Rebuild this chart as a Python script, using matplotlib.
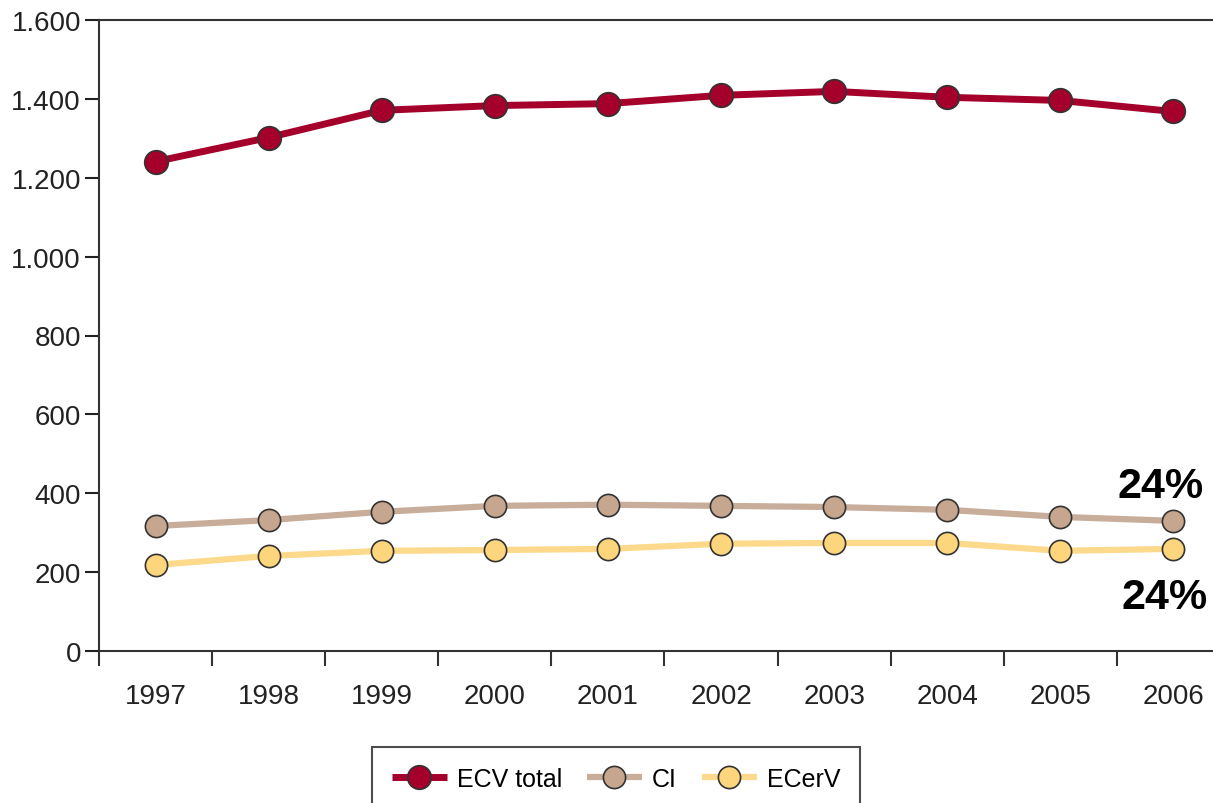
import numpy as np
import matplotlib.pyplot as plt
from matplotlib.ticker import FixedLocator, FuncFormatter

years = ["1997", "1998", "1999", "2000", "2001", "2002", "2003", "2004", "2005", "2006"]
ecv_total = [1241, 1302, 1371, 1383, 1388, 1409, 1419, 1404, 1396, 1368]
ci = [317, 332, 353, 368, 371, 368, 365, 358, 340, 330]
ecerv = [218, 241, 254, 256, 259, 272, 274, 274, 254, 259]
pct_labels = ["24%", "24%"]

plt.rcParams["font.family"] = ["Liberation Sans", "DejaVu Sans"]

W, H = 1213, 804
fig = plt.figure(figsize=(W / 100, H / 100), dpi=100)
ax = fig.add_axes([99 / W, 1 - 652 / H, (1230 - 99) / W, (652 - 21) / H])

x = np.arange(len(years))
series = [
    (ecv_total, "ECV total", "#a5002b", "#a5002b", 5.0, 17),
    (ci, "CI", "#c9ad9b", "#c6a68e", 4.5, 16),
    (ecerv, "ECerV", "#fdd98c", "#fcd57c", 4.5, 16),
]
for vals, label, lc, mc, lw, ms in series:
    ax.plot(x, vals, color=lc, lw=lw, marker="o", ms=ms, mfc=mc,
            mec="#333333", mew=1.2, label=label, solid_capstyle="butt")

ax.set_xlim(-0.5, len(years) - 0.5)
ax.set_ylim(0, 1600)
ax.set_yticks(np.arange(0, 1601, 200))
ax.yaxis.set_major_formatter(FuncFormatter(lambda v, p: f"{int(v):,}".replace(",", ".")))
ax.tick_params(axis="y", length=10, width=1.5, pad=3, labelsize=20, colors="#222222")

ax.xaxis.set_major_locator(FixedLocator(np.arange(-0.5, len(years), 1.0)))
ax.xaxis.set_major_formatter(FuncFormatter(lambda v, p: ""))
ax.xaxis.set_minor_locator(FixedLocator(x))
ax.set_xticklabels(years, minor=True)
ax.tick_params(axis="x", which="major", length=11, width=1.5, color="#333333")
ax.tick_params(axis="x", which="minor", length=0, pad=23, labelsize=20, labelcolor="#222222")

for side in ["left", "bottom", "top"]:
    ax.spines[side].set_linewidth(1.5)
    ax.spines[side].set_color("#333333")
ax.spines["right"].set_visible(False)

ax.text(8.89, 419, pct_labels[0], ha="center", va="center", fontsize=31, fontweight="bold")
ax.text(8.92, 137, pct_labels[1], ha="center", va="center", fontsize=31, fontweight="bold")

leg = fig.legend(loc="upper center", bbox_to_anchor=(616 / W, 1 - 748 / H), ncol=3,
                 fontsize=18, frameon=True, fancybox=False, edgecolor="#222222",
                 handlelength=2.2, columnspacing=1.0, handletextpad=0.4, borderpad=0.8,
                 borderaxespad=0)
leg.get_frame().set_linewidth(1.5)

fig.savefig("out.png", dpi=100)
